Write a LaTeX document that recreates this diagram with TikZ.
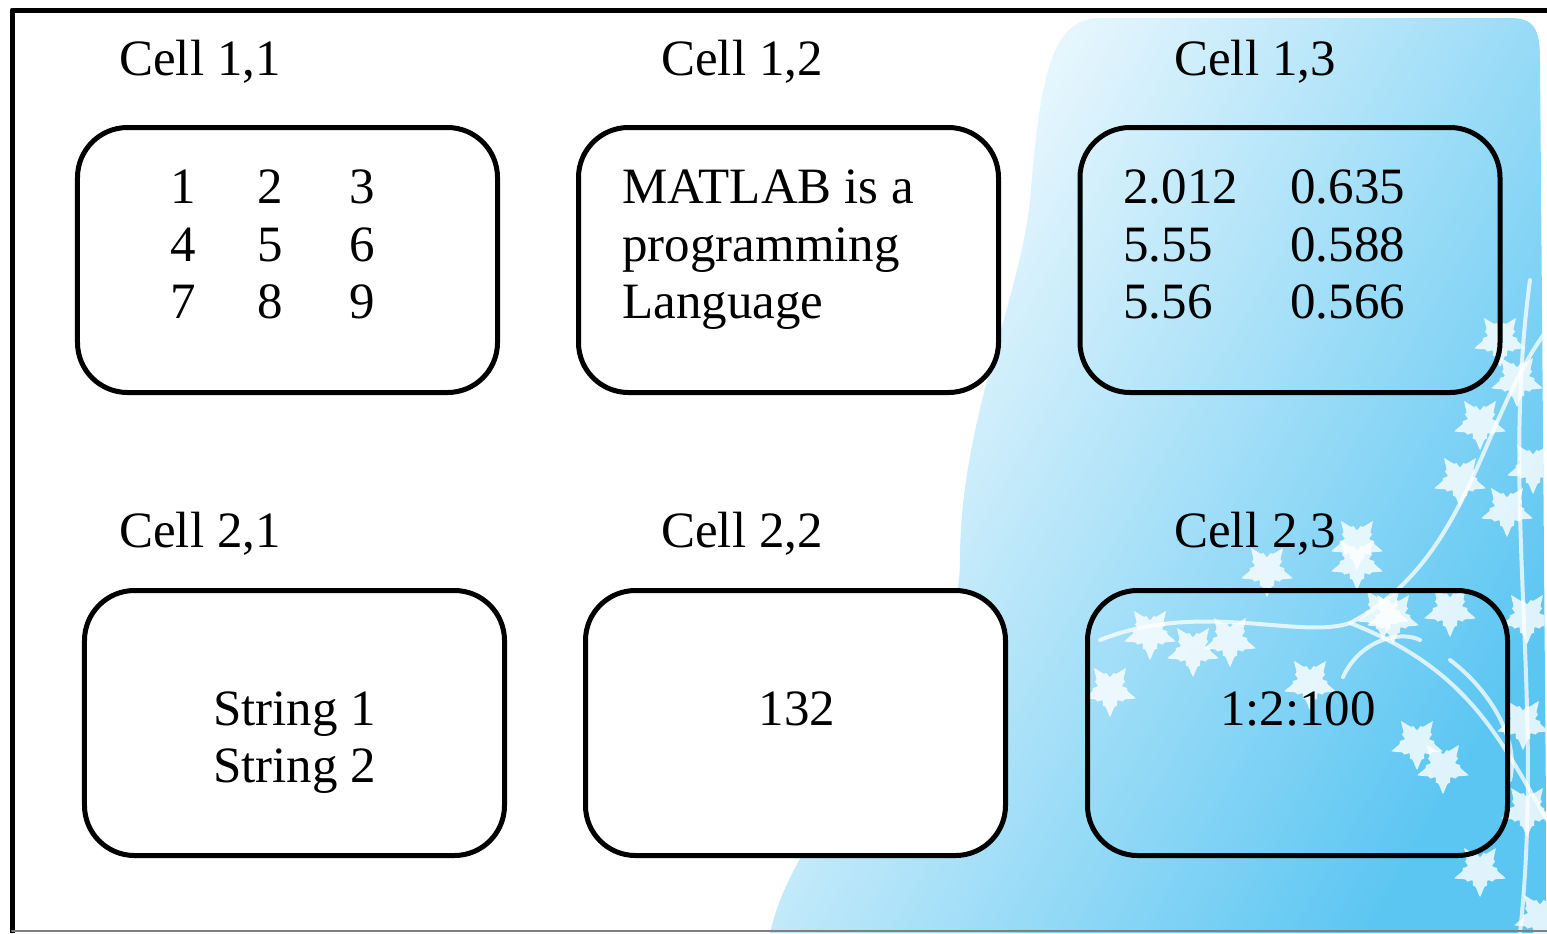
\documentclass[tikz,border=0pt]{standalone}
\usepackage{fontspec}
\setmainfont{Liberation Serif}
\definecolor{skyblue}{HTML}{5CC6F2}
\tikzset{
  every picture/.style={line join=round, line cap=round},
  cellbox/.style={draw, line width=1mm, rounded corners=10mm, minimum width=84mm, minimum height=53mm, inner sep=0pt},
  celllabel/.style={anchor=base, inner sep=0pt},
  celltext/.style={anchor=base, inner sep=0pt},
  twig/.style={draw=white, line width=0.8mm, opacity=.75},
  leaf/.pic={\fill[white,opacity=.8] plot[domain=0:358,samples=180]
    ({(13+11*(1-abs(sin(2.5*\x)))+3*(1-abs(sin(7.5*\x))))*cos(\x+90)},
     {(13+11*(1-abs(sin(2.5*\x)))+3*(1-abs(sin(7.5*\x))))*sin(\x+90)}) -- cycle;},
}

\begin{document}
\begin{tikzpicture}[x=0.2mm,y=-0.2mm,font=\fontsize{29}{33}\selectfont]
\useasboundingbox (0,0) rectangle (1547,933);
% blue backdrop
\begin{scope}
\clip (770,933) .. controls (800,800) and (960,700) .. (960,560)
  .. controls (960,420) and (1020,300) .. (1030,200)
  .. controls (1040,80) and (1050,18) .. (1100,18) -- (1510,18)
  .. controls (1535,18) and (1540,30) .. (1540,60) -- (1547,933) -- cycle;
\shade[left color=white, middle color=skyblue!45, right color=skyblue, shading angle=60]
  (760,0) rectangle (1547,933);
% branches and leaves
\draw[twig] (1547,330) .. controls (1480,420) and (1470,560) .. (1350,623)
  .. controls (1300,640) and (1200,600) .. (1100,640);
\draw[twig] (1547,820) .. controls (1500,740) and (1470,670) .. (1350,623);
\draw[twig] (1450,660) .. controls (1490,690) and (1520,740) .. (1510,780);
\draw[twig] (1343,677) .. controls (1360,640) and (1400,630) .. (1420,640);
\draw[twig] (1530,280) .. controls (1500,500) and (1545,700) .. (1520,933);
\foreach \p in {(1480,423),(1460,480),(1507,510),(1533,467),(1357,543),(1517,380),
                (1383,613),(1150,633),(1193,650),(1310,683),(1417,743),(1393,617),
                (1450,610),(1527,617),(1527,810),(1523,723),(1443,767),(1540,917),
                (1267,570),(1357,563),(1230,640),(1110,690),(1500,340),(1480,870)}
  \pic at \p {leaf};
\end{scope}
% boxes
\foreach \c/\x/\f in {1/287.5/white, 2/788.5/white, 3/1290/none}{
  \node[cellbox, fill=\f] (b1\c) at (\x,260) {};
}
\foreach \c/\x/\f in {1/294.5/white, 2/795.5/white, 3/1297.5/none}{
  \node[cellbox, fill=\f] (b2\c) at (\x,723) {};
}
% labels
\foreach \r/\y in {1/75, 2/547}{
  \foreach \c/\x in {1/200, 2/742, 3/1255}{
    \node[celllabel] (l\r\c) at (\x,\y) {Cell \r,\c};
  }
}
% cell 1,1
\foreach \y/\a/\b/\c in {203/1/2/3, 261/4/5/6, 318/7/8/9}{
  \node[celltext] (n\a) at (183,\y) {\a};
  \node[celltext] (n\b) at (270,\y) {\b};
  \node[celltext] (n\c) at (362,\y) {\c};
}
% cell 1,2
\foreach \y/\t in {203/MATLAB is a, 261/programming, 318/Language}{
  \node[celltext, anchor=base west] (s\y) at (622,\y) {\t};
}
% cell 1,3
\foreach \y/\p/\q in {203/2.012/0.635, 261/5.55/0.588, 318/5.56/0.566}{
  \node[celltext, anchor=base west] (p\y) at (1123,\y) {\p};
  \node[celltext, anchor=base west] (q\y) at (1290,\y) {\q};
}
% row 2
\node[celltext, anchor=base west] (str1) at (213,725) {String 1};
\node[celltext, anchor=base west] (str2) at (213,782) {String 2};
\node[celltext] (num) at (797,725) {132};
\node[celltext] (rng) at (1298,725) {1:2:100};
% frame
\draw[line width=1mm, line cap=butt] (1547,10) -| (12,933);
\draw[gray, line width=0.4mm] (12,931) -- (1547,931);
\end{tikzpicture}
\end{document}
